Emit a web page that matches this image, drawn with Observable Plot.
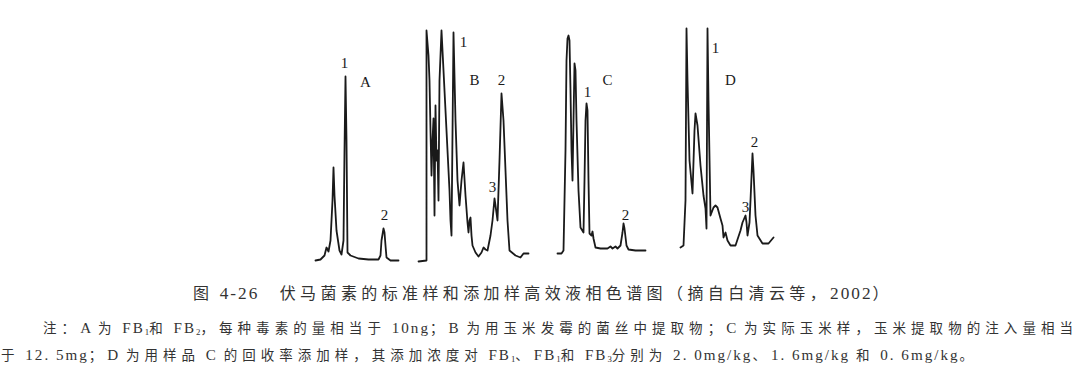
<!DOCTYPE html>
<html>
<head>
<meta charset="utf-8">
<script src="https://cdn.jsdelivr.net/npm/d3@7"></script>
<script src="https://cdn.jsdelivr.net/npm/@observablehq/plot@0.6"></script>
<style>
  html, body { margin: 0; padding: 0; background: #fff; }
  #wrap { position: relative; width: 1080px; height: 380px; overflow: hidden; background: #fff; }
</style>
</head>
<body>
<div id="wrap"></div>
<script>
// ---- Chromatogram A: standards FB1 + FB2 (retention units, detector response) ----
const aTime = [0,5,9,11,13,15,17,18,19,21,24,26,28,29,30,31,32,35,43,53,63,65,66,68,69,70,71,75,83];
const aResp = [5,6,10,18,14,25,65,98,70,35,15,11,25,115,189,125,13,10,7,6,6,10,25,37,33,20,8,5,5];
const aLabels = ["1","A","2"];
const aLabelT = [29,50,69];
const aLabelS = [202,183,50];

// ---- Chromatogram B: mouldy corn mycelium extract ----
const bTime = [0,8,8,10,11,12,13,14,15,16,17,18,19,20,21,23,25,27,29,31,32,33,35,37,39,41,43,45,47,49,50,51,52,53,54,57,60,63,65,67,69,72,74,76,77,79,81,83,85,87,89,91,97,102,105,110];
const bResp = [4,5,235,210,185,135,90,125,147,50,160,105,115,65,185,235,195,155,115,75,45,30,233,145,85,60,85,103,70,43,33,45,48,30,20,13,9,13,18,16,15,30,45,67,60,45,105,172,145,95,45,15,10,8,12,12];
const bLabels = ["1","B","2","3"];
const bLabelT = [45,56,83,74];
const bLabelS = [223,185,185,78];

// ---- Chromatogram C: real corn sample ----
const cTime = [0,4,6,8,9,10,11,12,13,14,15,16,17,18,19,21,23,26,27,28,29,30,31,32,34,35,36,38,43,50,53,55,58,60,63,65,66,67,69,71,78,88];
const cResp = [12,12,15,115,205,227,230,225,175,115,85,145,202,195,145,75,38,33,85,145,162,155,85,32,30,34,27,18,17,17,19,17,19,17,20,33,42,37,20,16,15,15];
const cLabels = ["1","C","2"];
const cLabelT = [30,50,68];
const cLabelS = [173,185,50];

// ---- Chromatogram D: sample C spiked for recovery ----
const dTime = [0,3,5,6,7,9,12,14,15,17,20,23,25,26,27,28,30,33,35,37,40,42,43,45,47,50,55,60,62,65,66,67,69,70,72,73,75,77,82,88,93];
const dResp = [18,20,65,237,185,105,72,135,152,140,100,70,57,37,237,165,50,58,60,58,47,40,28,33,25,20,20,35,43,50,43,30,43,65,112,95,50,30,22,22,28];
const dLabels = ["1","D","2","3"];
const dLabelT = [35,50,74,65];
const dLabelS = [217,185,123,58];

// ---- Caption texts ----
const captionTitle = "图 4-26　伏马菌素的标准样和添加样高效液相色谱图（摘自白清云等，2002）";
const noteLine1 = "注：A 为 FB₁和 FB₂，每种毒素的量相当于 10ng；B 为用玉米发霉的菌丝中提取物；C 为实际玉米样，玉米提取物的注入量相当";
const noteLine2 = "于 12. 5mg；D 为用样品 C 的回收率添加样，其添加浓度对 FB₁、FB₁和 FB₃分别为 2. 0mg/kg、1. 6mg/kg 和 0. 6mg/kg。";

// ---------------- drawing ----------------
const wrap = document.getElementById("wrap");
const ink = "#1a1a1a";
const pad = 20;

const panels = [
  {t: aTime, s: aResp, lab: aLabels, lt: aLabelT, ls: aLabelS, left: 315, span: 83},
  {t: bTime, s: bResp, lab: bLabels, lt: bLabelT, ls: bLabelS, left: 418, span: 110},
  {t: cTime, s: cResp, lab: cLabels, lt: cLabelT, ls: cLabelS, left: 557, span: 88},
  {t: dTime, s: dResp, lab: dLabels, lt: dLabelT, ls: dLabelS, left: 680, span: 93}
];

for (const p of panels) {
  const line = p.t.map((t, i) => ({t, s: p.s[i]}));
  const labs = p.lab.map((l, i) => ({l, t: p.lt[i], s: p.ls[i]}));
  const chart = Plot.plot({
    width: p.span + 2 * pad,
    height: 280,
    marginLeft: pad,
    marginRight: pad,
    marginTop: 25,
    marginBottom: 15,
    x: {domain: [0, p.span], axis: null},
    y: {domain: [0, 240], axis: null},
    style: {background: "transparent", overflow: "visible"},
    marks: [
      Plot.line(line, {x: "t", y: "s", stroke: ink, strokeWidth: 1.8, strokeLinejoin: "round", curve: "linear"}),
      Plot.text(labs, {x: "t", y: "s", text: "l", fontSize: 15, fill: ink,
        fontFamily: "'Liberation Serif', 'DejaVu Serif', serif"})
    ]
  });
  chart.style.position = "absolute";
  chart.style.left = (p.left - pad) + "px";
  chart.style.top = "0px";
  wrap.appendChild(chart);
}

// caption below the charts
const ns = "http://www.w3.org/2000/svg";
const cap = document.createElementNS(ns, "svg");
cap.setAttribute("width", 1080);
cap.setAttribute("height", 380);
cap.style.position = "absolute";
cap.style.left = "0px";
cap.style.top = "0px";
wrap.appendChild(cap);

const subMap = {"₀": "0", "₁": "1", "₂": "2", "₃": "3"};
function classify(ch) {
  if (subMap[ch]) return "sub";
  const c = ch.codePointAt(0);
  if (c >= 0x2E80 || (c >= 0x3000 && c <= 0x303F)) return "cjk";
  return "lat";
}
function segments(str) {
  const out = [];
  for (const ch of str) {
    const k = classify(ch);
    const v = k === "sub" ? subMap[ch] : ch;
    if (out.length && out[out.length - 1].k === k) out[out.length - 1].s += v;
    else out.push({k, s: v});
  }
  return out;
}

const rows = [
  {text: captionTitle, x: 193, y: 299, len: 700, size: 16, cjkLs: 4, latScale: 1.08},
  {text: noteLine1, x: 43, y: 333, len: 1035, size: 13.5, cjkLs: 2.5, latScale: 1.12},
  {text: noteLine2, x: 1, y: 360, len: 977, size: 13.5, cjkLs: 2.5, latScale: 1.12}
];
for (const r of rows) {
  const t = document.createElementNS(ns, "text");
  t.setAttribute("x", r.x);
  t.setAttribute("y", r.y);
  t.setAttribute("font-size", r.size);
  t.setAttribute("fill", "#333");
  t.setAttribute("font-family", "'Liberation Serif', 'Noto Sans CJK SC', serif");
  const cjkSpans = [];
  const latSpans = [];
  let nCjk = 0, nLat = 0;
  for (const seg of segments(r.text)) {
    const sp = document.createElementNS(ns, "tspan");
    sp.textContent = seg.s;
    if (seg.k === "cjk") {
      sp.setAttribute("font-family", "'Noto Sans CJK SC', sans-serif");
      sp.setAttribute("letter-spacing", r.cjkLs);
      cjkSpans.push(sp); nCjk += [...seg.s].length;
    } else if (seg.k === "sub") {
      sp.setAttribute("font-size", r.size * 0.65);
      sp.setAttribute("baseline-shift", "-22%");
    } else {
      sp.setAttribute("font-size", r.size * r.latScale);
      latSpans.push(sp); nLat += seg.s.length;
    }
    t.appendChild(sp);
  }
  cap.appendChild(t);
  // fit the line to the measured width: first Latin tracking, then CJK tracking
  let extra = r.len - t.getComputedTextLength();
  const latLs = Math.max(-0.3, Math.min(2.0, extra / Math.max(1, nLat)));
  for (const sp of latSpans) sp.setAttribute("letter-spacing", latLs);
  extra -= latLs * nLat;
  const cjkLs = r.cjkLs + extra / Math.max(1, nCjk);
  for (const sp of cjkSpans) sp.setAttribute("letter-spacing", cjkLs);
}
</script>
</body>
</html>
